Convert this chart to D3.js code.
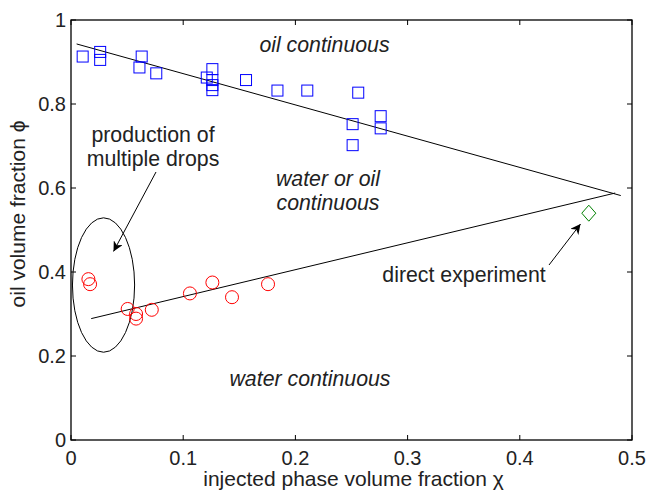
<!DOCTYPE html>
<html><head><meta charset="utf-8">
<script src="https://cdn.jsdelivr.net/npm/d3@7"></script>
<style>
body{margin:0;background:#fff;}
text{font-family:"Liberation Sans",Arial,Helvetica,sans-serif;fill:#222;}
</style></head>
<body>
<svg id="c" width="648" height="493"></svg>
<script>
// ---- data ----
const oilX = [0.0104,0.026,0.026,0.063,0.061,0.076,0.121,0.126,0.126,0.126,0.126,0.156,0.184,0.2106,0.256,0.251,0.251,0.276,0.276];
const oilY = [0.913,0.924,0.905,0.913,0.887,0.873,0.863,0.883,0.857,0.845,0.833,0.857,0.832,0.832,0.827,0.752,0.702,0.771,0.742];
const waterX = [0.0155,0.017,0.0505,0.058,0.058,0.072,0.106,0.126,0.1435,0.1756];
const waterY = [0.383,0.371,0.312,0.300,0.289,0.310,0.349,0.375,0.340,0.371];
const directX = [0.4615];
const directY = [0.540];
const upperLineX = [0.005,0.49];
const upperLineY = [0.943,0.582];
const lowerLineX = [0.018,0.485];
const lowerLineY = [0.289,0.588];
const xTicks = [0,0.1,0.2,0.3,0.4,0.5];
const yTicks = [0,0.2,0.4,0.6,0.8,1];
const xTickLabels = ["0","0.1","0.2","0.3","0.4","0.5"];
const yTickLabels = ["0","0.2","0.4","0.6","0.8","1"];

const svg = d3.select("#c");
const L=71,R=632,T=20,B=440;
const x = d3.scaleLinear().domain([0,0.5]).range([L,R]);
const y = d3.scaleLinear().domain([0,1]).range([B,T]);

// ticks on all 4 sides (inward)
const tl=5;
const g = svg.append("g");
xTicks.forEach((t,i)=>{
  g.append("line").attr("x1",x(t)).attr("x2",x(t)).attr("y1",B).attr("y2",B-tl).attr("stroke","#000");
  g.append("line").attr("x1",x(t)).attr("x2",x(t)).attr("y1",T).attr("y2",T+tl).attr("stroke","#000");
  g.append("text").attr("x",x(t)).attr("y",465).attr("text-anchor","middle").attr("font-size",20).text(xTickLabels[i]);
});
yTicks.forEach((t,i)=>{
  g.append("line").attr("x1",L).attr("x2",L+tl).attr("y1",y(t)).attr("y2",y(t)).attr("stroke","#000");
  g.append("line").attr("x1",R).attr("x2",R-tl).attr("y1",y(t)).attr("y2",y(t)).attr("stroke","#000");
  g.append("text").attr("x",66).attr("y",y(t)+7).attr("text-anchor","end").attr("font-size",20).text(yTickLabels[i]);
});
svg.append("rect").attr("x",L).attr("y",T).attr("width",R-L).attr("height",B-T)
  .attr("fill","none").attr("stroke","#000").attr("stroke-width",1.3);

// axis labels
svg.append("text").attr("x",(L+R)/2+2).attr("y",486).attr("text-anchor","middle").attr("font-size",21)
  .text("injected phase volume fraction χ");
svg.append("text").attr("transform","translate(25,214) rotate(-90)").attr("text-anchor","middle").attr("font-size",21)
  .text("oil volume fraction ϕ");

// fit lines
const line = d3.line().x(d=>x(d[0])).y(d=>y(d[1]));
svg.append("path").datum(d3.zip(upperLineX,upperLineY)).attr("d",line).attr("fill","none").attr("stroke","#000").attr("stroke-width",1);
svg.append("path").datum(d3.zip(lowerLineX,lowerLineY)).attr("d",line).attr("fill","none").attr("stroke","#000").attr("stroke-width",1);

// ellipse
svg.append("ellipse").attr("cx",x(0.029)).attr("cy",y(0.369))
  .attr("rx",x(0.029)-x(0.0013)).attr("ry",y(0.209)-y(0.369))
  .attr("fill","none").attr("stroke","#000").attr("stroke-width",1);

// markers
const s=11;
svg.append("g").selectAll("rect").data(d3.zip(oilX,oilY)).join("rect")
  .attr("x",d=>x(d[0])-s/2).attr("y",d=>y(d[1])-s/2).attr("width",s).attr("height",s)
  .attr("fill","none").attr("stroke","#0000ff").attr("stroke-width",1);
svg.append("g").selectAll("circle").data(d3.zip(waterX,waterY)).join("circle")
  .attr("cx",d=>x(d[0])).attr("cy",d=>y(d[1])).attr("r",6.5)
  .attr("fill","none").attr("stroke","#ff0000").attr("stroke-width",1);
svg.append("g").selectAll("path").data(d3.zip(directX,directY)).join("path")
  .attr("d",d=>{const cx=x(d[0]),cy=y(d[1]);return `M${cx},${cy-8}L${cx+7},${cy}L${cx},${cy+8}L${cx-7},${cy}Z`;})
  .attr("fill","none").attr("stroke","#008000").attr("stroke-width",1);

// arrows
svg.append("defs").append("marker").attr("id","ah").attr("viewBox","0 0 10 10").attr("refX",10).attr("refY",5)
  .attr("markerWidth",10).attr("markerHeight",10).attr("markerUnits","userSpaceOnUse").attr("orient","auto")
  .append("path").attr("d","M0,0L10,5L0,10L3,5Z").attr("fill","#000");
function arrow(x1,y1,x2,y2){
  svg.append("line").attr("x1",x1).attr("y1",y1).attr("x2",x2).attr("y2",y2)
    .attr("stroke","#000").attr("stroke-width",1).attr("marker-end","url(#ah)");
}
arrow(156,172,113.5,251.5);
arrow(549,265,580.5,224);

// annotations
function txt(tx,ty,str,italic){
  svg.append("text").attr("x",tx).attr("y",ty).attr("text-anchor","middle").attr("font-size",21.3)
    .attr("font-style",italic?"italic":"normal").text(str);
}
txt(324.5,52,"oil continuous",true);
txt(328,186,"water or oil",true);
txt(328,210,"continuous",true);
txt(310,386,"water continuous",true);
txt(153,142,"production of",false);
txt(153,166,"multiple drops",false);
txt(464,282,"direct experiment",false);
</script>
</body></html>
